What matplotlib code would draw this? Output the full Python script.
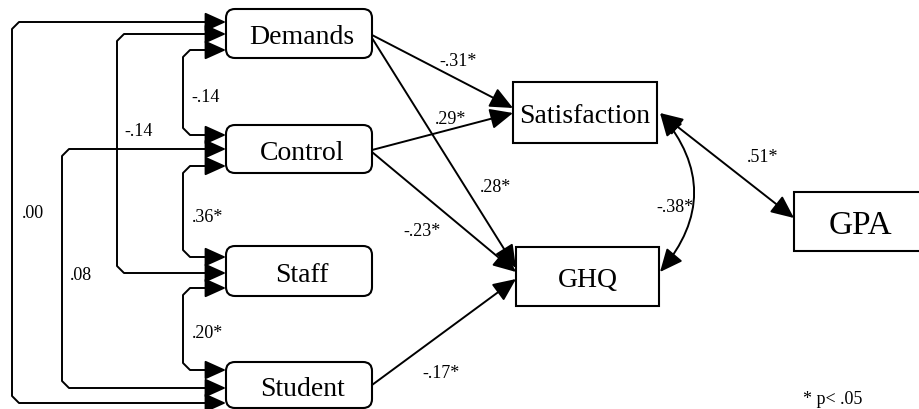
import matplotlib.pyplot as plt
from matplotlib.patches import FancyBboxPatch, Rectangle, FancyArrowPatch
from matplotlib.path import Path

# variaveis do modelo
predictors = ["Demands", "Control", "Staff", "Student"]
outcomes = ["Satisfaction", "GHQ"]
final = "GPA"

# correlacoes entre preditores (de, para, coeficiente)
correlations = [("Demands", "Control", "-.14"),
                ("Control", "Staff", ".36*"),
                ("Staff", "Student", ".20*"),
                ("Demands", "Staff", "-.14"),
                ("Control", "Student", ".08"),
                ("Demands", "Student", ".00")]

# caminhos de regressao (de, para, coeficiente)
paths = [("Demands", "Satisfaction", "-.31*"),
         ("Control", "Satisfaction", ".29*"),
         ("Demands", "GHQ", ".28*"),
         ("Control", "GHQ", "-.23*"),
         ("Student", "GHQ", "-.17*")]

outcome_cov = "-.38*"
gpa_link = ".51*"
note = "* p< .05"

# layout em pixels (x0, y0, x1, y1)
boxes = {"Demands": (226, 9, 372, 58), "Control": (226, 125, 372, 173),
         "Staff": (226, 246, 372, 296), "Student": (226, 362, 372, 408),
         "Satisfaction": (513, 82, 657, 143), "GHQ": (516, 247, 659, 306),
         "GPA": (794, 192, 930, 251)}

# x da linha vertical, y de saida em cada caixa, posicao do rotulo
corr_layout = [(183, 50, 135, (191, 97)),
               (183, 166, 257, (192, 217)),
               (183, 288, 370, (192, 333)),
               (117, 34, 273, (124, 131)),
               (62, 149, 388, (70, 276)),
               (12, 22, 403, (22, 213))]

path_layout = [((372, 35), (513, 108), (439, 62)),
               ((372, 150), (513, 113), (435, 119)),
               ((372, 38), (516, 268), (480, 188)),
               ((372, 152), (516, 272), (403, 232)),
               ((372, 385), (516, 279), (422, 373))]

serif = "Liberation Serif"
fig = plt.figure(figsize=(9.19, 4.09), dpi=100)
ax = fig.add_axes([0, 0, 1, 1])
ax.set_xlim(0, 919)
ax.set_ylim(409, 0)
ax.axis("off")

# caixas (texto um pouco abaixo do centro, como no original)
dy = 4
for name, (x0, y0, x1, y1) in boxes.items():
    if name in predictors:
        ax.add_patch(FancyBboxPatch((x0 + 6, y0 + 6), x1 - x0 - 12, y1 - y0 - 12,
                                    boxstyle="round,pad=6,rounding_size=9",
                                    fc="white", ec="black", lw=1.5))
        ax.text(302, (y0 + y1) / 2 + dy, name, fontsize=20, family=serif,
                ha="center", va="center")
    elif name == final:
        ax.add_patch(Rectangle((x0, y0), x1 - x0, y1 - y0, fc="white", ec="black", lw=1.5))
        ax.text(860, (y0 + y1) / 2 + dy, name, fontsize=24, family=serif, ha="center", va="center")
    else:
        ax.add_patch(Rectangle((x0, y0), x1 - x0, y1 - y0, fc="white", ec="black", lw=1.5))
        ax.text((x0 + x1) / 2, (y0 + y1) / 2 + dy, name, fontsize=20, family=serif,
                ha="center", va="center")

head = "head_length=1.0,head_width=0.45"

# correlacoes com cantos chanfrados
c = 7
for (a, b, val), (xv, ya, yb, lab) in zip(correlations, corr_layout):
    verts = [(226, ya), (xv + c, ya), (xv, ya + c), (xv, yb - c), (xv + c, yb), (226, yb)]
    p = FancyArrowPatch(path=Path(verts), arrowstyle="<|-|>," + head,
                        mutation_scale=13, color="black", lw=1.4)
    ax.add_patch(p)
    ax.text(lab[0], lab[1], val, fontsize=13, family=serif, ha="left", va="center")

# caminhos
for (a, b, val), (p0, p1, lab) in zip(paths, path_layout):
    ax.add_patch(FancyArrowPatch(p0, p1, arrowstyle="-|>," + head,
                                 mutation_scale=14, color="black", lw=1.4, shrinkA=0, shrinkB=0))
    ax.text(lab[0], lab[1], val, fontsize=13, family=serif, ha="left", va="center")

# covariancia entre resultados
ax.add_patch(FancyArrowPatch((660, 113), (660, 272), connectionstyle="arc3,rad=-0.42",
                             arrowstyle="<|-|>," + head,
                             mutation_scale=14, color="black", lw=1.4, shrinkA=0, shrinkB=0))
ax.text(656, 207, outcome_cov, fontsize=13, family=serif, ha="left", va="center")

# ligacao com GPA
ax.add_patch(FancyArrowPatch((660, 113), (794, 218), arrowstyle="<|-|>," + head,
                             mutation_scale=14, color="black", lw=1.4, shrinkA=0, shrinkB=0))
ax.text(747, 157, gpa_link, fontsize=13, family=serif, ha="left", va="center")

ax.text(803, 400, note, fontsize=13, family=serif, ha="left", va="center")

fig.savefig("out.png", dpi=100)
